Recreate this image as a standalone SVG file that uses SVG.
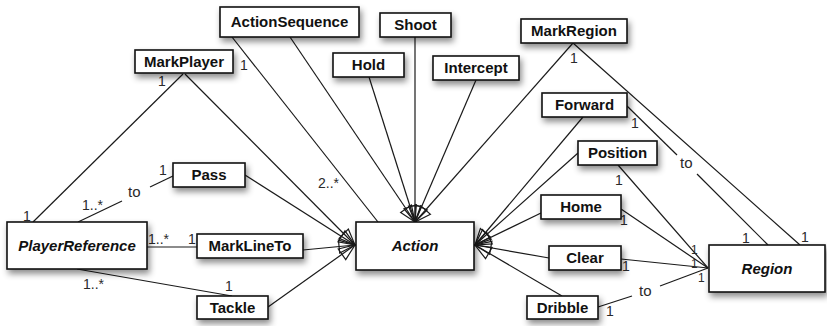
<svg xmlns="http://www.w3.org/2000/svg" width="827" height="326" viewBox="0 0 827 326">
<style>
.box{fill:#fff;stroke:#111;stroke-width:1.6;filter:url(#sh)}
.lbl{font-family:"Liberation Sans",Arial,sans-serif;font-size:15px;font-weight:bold;fill:#111;text-anchor:middle}
.it{font-style:italic}
.ln{stroke:#1a1a1a;stroke-width:1.2;fill:none}
.gen{marker-end:url(#tri)}
.m{font-family:"Liberation Sans",Arial,sans-serif;font-size:14px;fill:#2a2a2a}
.s{font-size:12px}
</style>
<defs>
<filter id="sh" x="-20%" y="-30%" width="150%" height="190%">
<feDropShadow dx="2" dy="4" stdDeviation="3" flood-color="#000" flood-opacity="0.45"/>
</filter>
<marker id="tri" markerUnits="userSpaceOnUse" markerWidth="20" markerHeight="20" viewBox="-18 -10 20 20" refX="0" refY="0" orient="auto">
<path d="M-16,-6.5 L0,0 L-16,6.5 Z" fill="none" stroke="#1a1a1a" stroke-width="1.2"/>
</marker>
</defs>

<g id="connectors">
<line class="ln gen" x1="290" y1="37" x2="415" y2="222"/>
<line class="ln gen" x1="369" y1="77" x2="415" y2="222"/>
<line class="ln gen" x1="415" y1="37" x2="415" y2="222"/>
<line class="ln gen" x1="476" y1="80" x2="415" y2="222"/>
<line class="ln gen" x1="573" y1="43" x2="415" y2="222"/>
<line class="ln gen" x1="185" y1="74" x2="355" y2="245"/>
<line class="ln gen" x1="245" y1="175" x2="355" y2="245"/>
<line class="ln gen" x1="303" y1="250" x2="355" y2="245"/>
<line class="ln gen" x1="268" y1="307" x2="355" y2="245"/>
<line class="ln gen" x1="583" y1="117" x2="475" y2="245"/>
<line class="ln gen" x1="578" y1="153" x2="475" y2="245"/>
<line class="ln gen" x1="541" y1="213" x2="475" y2="245"/>
<line class="ln gen" x1="549" y1="258" x2="475" y2="245"/>
<line class="ln gen" x1="562" y1="296" x2="475" y2="245"/>

<line class="ln" x1="232" y1="37" x2="378" y2="222"/>
<text class="m" x="240" y="70">1</text>
<text class="m" x="318" y="188">2..*</text>

<line class="ln" x1="183" y1="74" x2="33" y2="222"/>
<text class="m" x="158" y="86">1</text>
<text class="m" x="23" y="221">1</text>

<line class="ln" x1="173" y1="176" x2="150" y2="187"/>
<line class="ln" x1="122" y1="201" x2="78" y2="222"/>
<text class="m" x="128" y="197" style="font-size:15px">to</text>
<text class="m" x="159" y="175">1</text>
<text class="m" x="82" y="210">1..*</text>

<line class="ln" x1="147" y1="247" x2="197" y2="247"/>
<text class="m" x="148" y="244">1..*</text>
<text class="m" x="188" y="244">1</text>

<line class="ln" x1="77" y1="269" x2="232" y2="296"/>
<text class="m" x="83" y="289">1..*</text>
<text class="m" x="225" y="291">1</text>

<line class="ln" x1="573" y1="43" x2="800" y2="245"/>
<text class="m" x="570" y="63">1</text>
<text class="m" x="801" y="242">1</text>

<line class="ln" x1="627" y1="106" x2="677" y2="155"/>
<line class="ln" x1="697" y1="174" x2="768" y2="245"/>
<text class="m" x="680" y="168" style="font-size:15px">to</text>
<text class="m" x="631" y="128">1</text>
<text class="m" x="742" y="243">1</text>

<line class="ln" x1="618" y1="165" x2="708" y2="268"/>
<text class="m" x="615" y="185">1</text>
<line class="ln" x1="621" y1="209" x2="708" y2="268"/>
<text class="m" x="620" y="225">1</text>
<line class="ln" x1="621" y1="259" x2="708" y2="268"/>
<text class="m" x="622" y="271">1</text>
<line class="ln" x1="598" y1="307" x2="632" y2="296"/>
<line class="ln" x1="660" y1="286" x2="708" y2="268"/>
<text class="m" x="639" y="296" style="font-size:15px">to</text>
<text class="m" x="606" y="316">1</text>
<text class="m s" x="691" y="254">1</text>
<text class="m s" x="691" y="268">1</text>
<text class="m s" x="698" y="282">1</text>
</g>

<g id="ActionSequence"><rect class="box" x="220" y="7" width="139" height="30"/><text class="lbl" x="289.5" y="27">ActionSequence</text></g>
<g id="Shoot"><rect class="box" x="380" y="13" width="71" height="24"/><text class="lbl" x="415.5" y="30">Shoot</text></g>
<g id="Hold"><rect class="box" x="333" y="53" width="71" height="24"/><text class="lbl" x="368.5" y="70">Hold</text></g>
<g id="Intercept"><rect class="box" x="433" y="56" width="86" height="24"/><text class="lbl" x="476" y="73">Intercept</text></g>
<g id="MarkRegion"><rect class="box" x="521" y="19" width="106" height="24"/><text class="lbl" x="574" y="36">MarkRegion</text></g>
<g id="MarkPlayer"><rect class="box" x="135" y="50" width="98" height="23"/><text class="lbl" x="184" y="67">MarkPlayer</text></g>
<g id="Forward"><rect class="box" x="542" y="93" width="85" height="24"/><text class="lbl" x="584.5" y="110">Forward</text></g>
<g id="Position"><rect class="box" x="578" y="141" width="79" height="24"/><text class="lbl" x="617.5" y="158">Position</text></g>
<g id="Home"><rect class="box" x="541" y="195" width="80" height="24"/><text class="lbl" x="581" y="212">Home</text></g>
<g id="Clear"><rect class="box" x="549" y="246" width="72" height="24"/><text class="lbl" x="585" y="263">Clear</text></g>
<g id="Dribble"><rect class="box" x="527" y="296" width="71" height="23"/><text class="lbl" x="562.5" y="313">Dribble</text></g>
<g id="Region"><rect class="box" x="709" y="245" width="116" height="47"/><text class="lbl it" x="767" y="274">Region</text></g>
<g id="Action"><rect class="box" x="356" y="222" width="118" height="48"/><text class="lbl it" x="415" y="251">Action</text></g>
<g id="PlayerReference"><rect class="box" x="7" y="222" width="140" height="47"/><text class="lbl it" x="77" y="251">PlayerReference</text></g>
<g id="Pass"><rect class="box" x="173" y="163" width="72" height="24"/><text class="lbl" x="209" y="180">Pass</text></g>
<g id="MarkLineTo"><rect class="box" x="197" y="234" width="106" height="24"/><text class="lbl" x="250" y="251">MarkLineTo</text></g>
<g id="Tackle"><rect class="box" x="197" y="296" width="71" height="23"/><text class="lbl" x="232.5" y="313">Tackle</text></g>
</svg>
